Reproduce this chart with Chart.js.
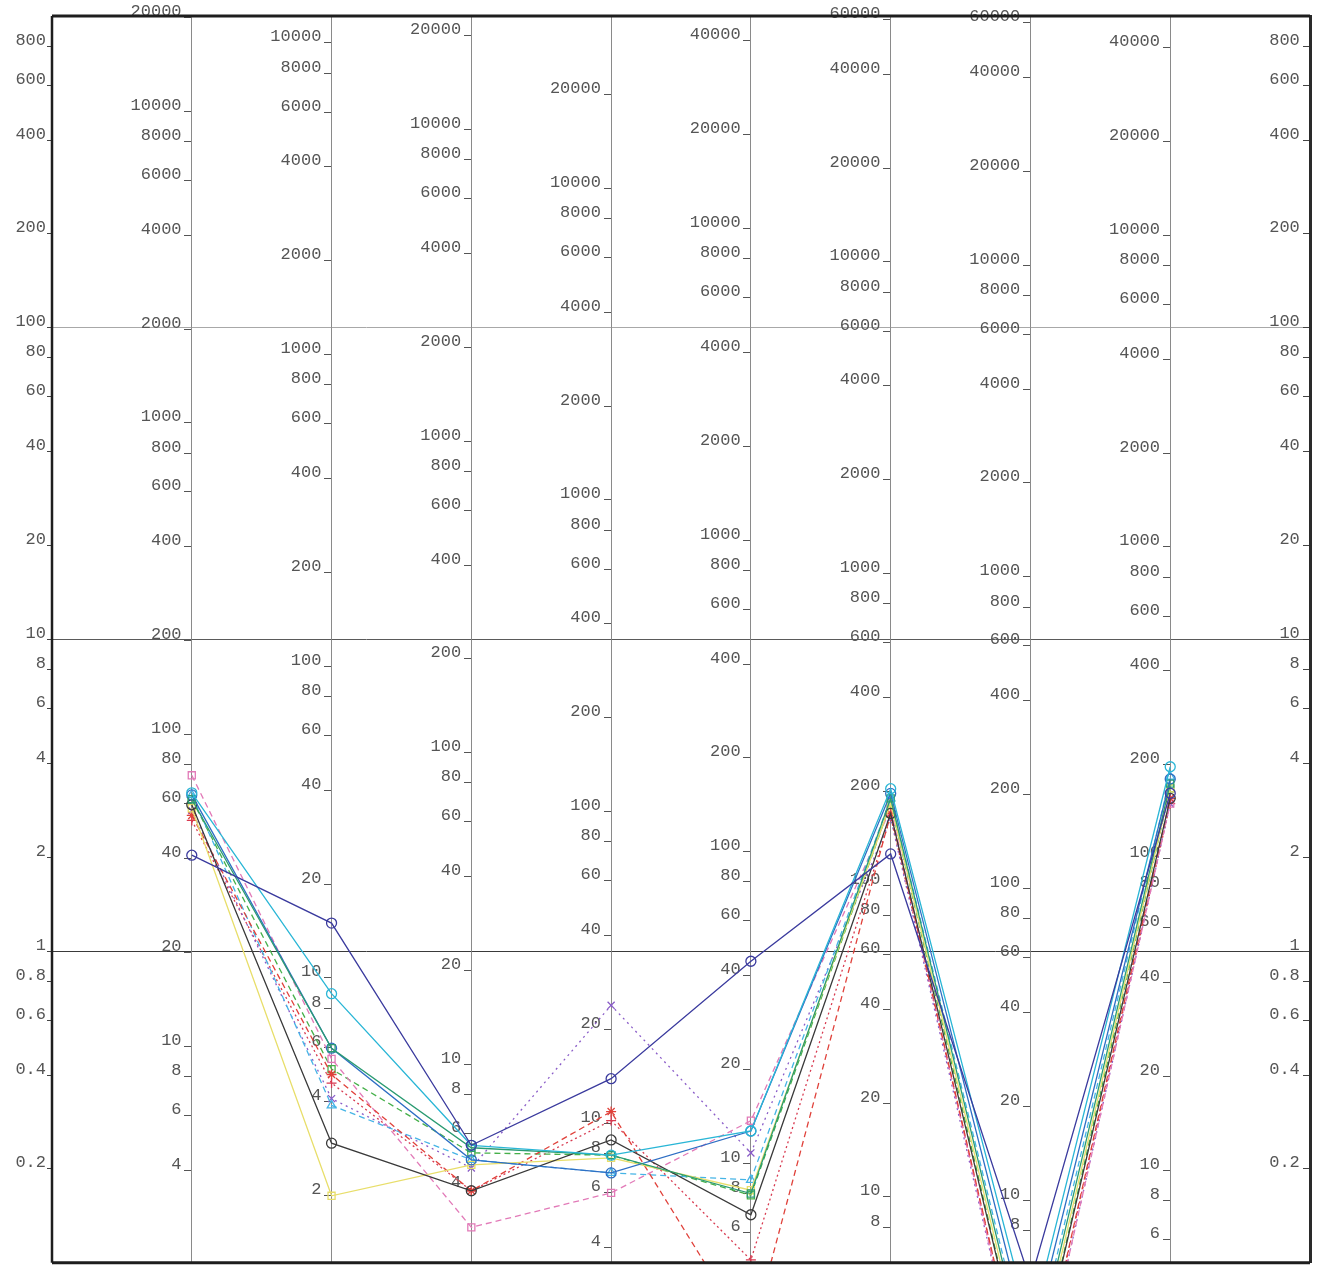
<!DOCTYPE html>
<html>
<head>
<meta charset="utf-8">
<script src="https://cdn.jsdelivr.net/npm/chart.js@4.4.1/dist/chart.umd.min.js"></script>
<style>
  html, body { margin: 0; padding: 0; background: #fff; }
  #wrap { width: 1324px; height: 1269px; position: relative; }
</style>
</head>
<body>
<div id="wrap"><canvas id="chart"></canvas></div>
<script>
// eight variables, each on its own 4-decade log axis
const axisPos = [1, 2, 3, 4, 5, 6, 7, 8];
const axisMin = [2.02, 1.22, 2.31, 3.57, 4.8, 6.15, 6.3, 5.05];
const tickSteps = [1, 2, 4, 6, 8];
// reference scale shown on the frame (left and right)
const refTicks = [0.2, 0.4, 0.6, 0.8, 1, 2, 4, 6, 8, 10, 20, 40, 60, 80, 100, 200, 400, 600, 800];

// values, in that axis' own units
const navy      = [41, 15, 5.5, 13.9, 44.5, 126, 5.5, 162];
const cyan      = [65, 8.9, 5.5, 7.9, 12.7, 204, 3.9, 197];
const teal      = [62, 5.95, 5.4, 7.9, 8.0, 190, 2.7, 174];
const blue      = [64, 5.95, 4.94, 6.93, 12.7, 197, 3.4, 180];
const dark      = [59.5, 2.95, 3.93, 8.84, 6.84, 170, 2.3, 156];
const yellow    = [58, 2.0, 4.76, 7.75, 8.2, 183, 2.5, 168];
const redDash   = [55, 4.9, 3.93, 10.9, 2.76, 170, 2.0, 156];
const cyanDash  = [64, 3.9, 4.94, 6.93, 8.85, 190, 2.9, 183];
const pink      = [74, 5.5, 3.0, 5.98, 13.7, 176, 1.86, 150];
const greenDash = [62, 5.1, 5.2, 7.9, 7.9, 183, 2.3, 168];
const purpleDot = [57, 4.1, 4.65, 23.9, 10.8, 164, 1.86, 150];
const redDot    = [53, 4.6, 3.93, 10.2, 4.9, 166, 2.0, 150];

const series = [
  { vals: navy,      color: '#3b3b9e', dash: [],     style: 'circle' },
  { vals: cyan,      color: '#2ab6d6', dash: [],     style: 'circle' },
  { vals: teal,      color: '#2b9b72', dash: [],     style: 'rect' },
  { vals: blue,      color: '#2f6fc4', dash: [],     style: 'circle' },
  { vals: dark,      color: '#3a3a3a', dash: [],     style: 'circle' },
  { vals: yellow,    color: '#e8de6a', dash: [],     style: 'rect' },
  { vals: redDash,   color: '#e0413a', dash: [6, 4], style: 'star' },
  { vals: cyanDash,  color: '#45b4e6', dash: [6, 4], style: 'triangle' },
  { vals: pink,      color: '#e27ab8', dash: [6, 4], style: 'rect' },
  { vals: greenDash, color: '#46b04a', dash: [6, 4], style: 'rect' },
  { vals: purpleDot, color: '#8a5cc8', dash: [2, 4], style: 'crossRot' },
  { vals: redDot,    color: '#d83a50', dash: [2, 3], style: 'cross' }
];

const labelFont = { family: '"Liberation Mono", "DejaVu Sans Mono", monospace', size: 17 };
const labelColor = '#555';

function fmt(v) { return String(Number(v.toPrecision(3))); }

function niceTicks(min, max) {
  const out = [];
  for (let e = -1; e <= 5; e++) {
    tickSteps.forEach(s => {
      const v = s * Math.pow(10, e);
      if (v > min * 1.04 && v < max) out.push(v);
    });
  }
  return out;
}

function noPad(s) { s.paddingTop = 0; s.paddingBottom = 0; }

function sideAxis(i) {
  const min = axisMin[i], max = min * 1e4;
  return {
    type: 'logarithmic',
    axis: 'y',
    position: { x: axisPos[i] },
    min: min, max: max,
    afterBuildTicks: s => { s.ticks = niceTicks(min, max).map(v => ({ value: v })); },
    afterFit: noPad,
    grid: { drawOnChartArea: false, tickLength: 7, tickColor: '#555', lineWidth: 1 },
    border: { display: true, color: '#8a8a8a', width: 1 },
    ticks: { autoSkip: false, labelOffset: -6, padding: 0, font: labelFont, color: labelColor,
             callback: v => fmt(v) + ' ' }
  };
}

function decadeColor(v) {
  if (v === 100) return '#a8a8a8';
  if (v === 10) return '#5a5a5a';
  if (v === 1) return '#3a3a3a';
  return 'rgba(0,0,0,0)';
}

const scales = {
  x: { type: 'linear', min: 0, max: 9, display: false },
  y: {
    type: 'logarithmic', position: 'left', min: 0.1, max: 1000,
    afterBuildTicks: s => { s.ticks = refTicks.map(v => ({ value: v })); },
    afterFit: s => { s.width = 52; noPad(s); },
    grid: { color: c => decadeColor(c.tick.value), tickColor: '#444', tickLength: 5, lineWidth: 1 },
    border: { display: false },
    ticks: { autoSkip: false, labelOffset: -6, padding: 1, font: labelFont, color: labelColor,
             callback: v => fmt(v) }
  },
  yR: {
    type: 'logarithmic', axis: 'y', position: { x: 9 }, min: 0.1, max: 1000,
    afterBuildTicks: s => { s.ticks = refTicks.map(v => ({ value: v })); },
    afterFit: noPad,
    grid: { drawOnChartArea: false, tickLength: 6, tickColor: '#444' },
    border: { display: true, color: '#2a2a2a', width: 3 },
    ticks: { autoSkip: false, labelOffset: -6, padding: 0, font: labelFont, color: labelColor,
             callback: v => fmt(v) + ' ' }
  }
};
axisPos.forEach((p, i) => { scales['a' + p] = sideAxis(i); });

// outer frame of the plot
const framePlugin = {
  id: 'frame',
  afterDraw(chart) {
    const { ctx, chartArea: a } = chart;
    ctx.save();
    ctx.strokeStyle = '#1e1e1e';
    ctx.lineWidth = 3;
    ctx.beginPath();
    ctx.moveTo(a.left, a.top); ctx.lineTo(a.right, a.top);
    ctx.moveTo(a.left, a.bottom); ctx.lineTo(a.right, a.bottom);
    ctx.stroke();
    ctx.lineWidth = 2.5;
    ctx.beginPath();
    ctx.moveTo(a.left, a.top); ctx.lineTo(a.left, a.bottom);
    ctx.stroke();
    ctx.restore();
  }
};

new Chart(document.getElementById('chart'), {
  type: 'line',
  data: {
    datasets: series.map(s => ({
      data: s.vals.map((v, i) => ({ x: axisPos[i], y: v * 0.1 / axisMin[i] })),
      borderColor: s.color,
      borderDash: s.dash,
      borderWidth: 1.3,
      pointStyle: s.style,
      pointRadius: 5,
      pointBorderColor: s.color,
      pointBackgroundColor: 'rgba(255,255,255,0)',
      pointBorderWidth: 1.3,
      tension: 0,
      clip: 0,
      xAxisID: 'x',
      yAxisID: 'y'
    }))
  },
  options: {
    responsive: true,
    maintainAspectRatio: false,
    animation: false,
    layout: { padding: { top: 16, right: 14, bottom: 4, left: 0 } },
    plugins: { legend: { display: false }, tooltip: { enabled: false } },
    scales: scales
  },
  plugins: [framePlugin]
});
</script>
</body>
</html>
